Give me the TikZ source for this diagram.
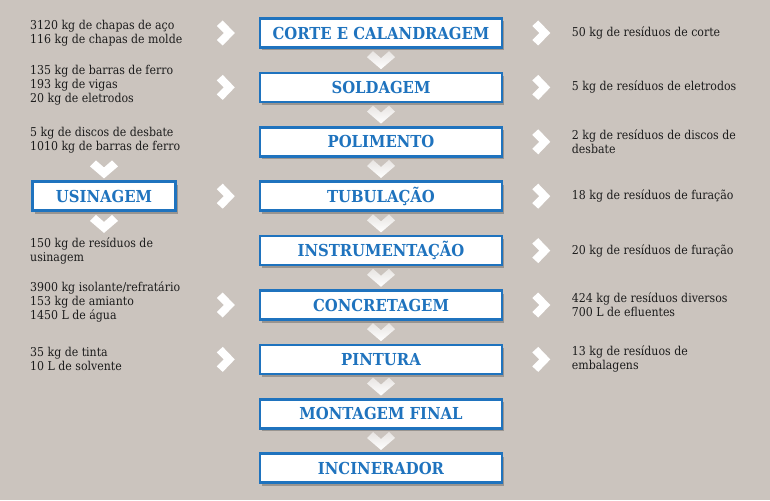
\documentclass[tikz,border=0pt]{standalone}
\usepackage{fontspec}
\setmainfont{DejaVu Serif Condensed}
\usetikzlibrary{positioning,calc,shadows}
\definecolor{bgsand}{RGB}{203,196,190}
\definecolor{stageblue}{RGB}{31,115,190}
\definecolor{inktext}{RGB}{28,28,28}

\begin{document}
\begin{tikzpicture}[x=1pt, y=-1pt, node distance=22.9pt, every node/.style={text=inktext}]
      \tikzset{
	  stage/.style={rectangle, draw=stageblue, fill=white, line width=2.5pt, minimum width=242pt, minimum height=29pt, inner sep=0, text=stageblue, font=\bfseries\fontsize{16.5}{18}\selectfont, drop shadow={shadow xshift=2pt, shadow yshift=-3pt, opacity=0.4, fill=black!70}},
	  flowlist/.style={anchor=west, align=left, inner sep=0, font=\fontsize{12.2}{14}\selectfont},
	  chev/.style={fill=white, draw=none},
	  fadechev/.style={top color=white!55!bgsand, bottom color=white, draw=none}
      }

      \def\rightchev{+(-3,-12.5) -- +(9,0) -- +(-3,12.5) -- +(-9,7) -- +(-2,0) -- +(-9,-7) -- cycle}
      \def\downchev{+(-14,-3) -- +(0,9) -- +(14,-3) -- +(8,-9) -- +(0,-2) -- +(-8,-9) -- cycle}

      \fill[bgsand] (0,0) rectangle (770,500);

      % central chain
      \node[stage] (cut) at (381,33) {CORTE E CALANDRAGEM};
      \node[stage, below=of cut] (weld) {SOLDAGEM};
      \node[stage, below=of weld] (polish) {POLIMENTO};
      \node[stage, below=of polish] (tube) {TUBULAÇÃO};
      \node[stage, below=of tube] (instr) {INSTRUMENTAÇÃO};
      \node[stage, below=of instr] (concrete) {CONCRETAGEM};
      \node[stage, below=of concrete] (paint) {PINTURA};
      \node[stage, below=of paint] (assembly) {MONTAGEM FINAL};
      \node[stage, below=of assembly] (burner) {INCINERADOR};

      \node[stage, minimum width=143pt, left=82pt of tube] (machining) {USINAGEM};

      \foreach \a/\b in {cut/weld, weld/polish, polish/tube, tube/instr, instr/concrete, concrete/paint, paint/assembly, assembly/burner}
	  \shade[fadechev] ($(\a.south)!0.5!(\b.north)$) \downchev;
      \fill[chev] ([yshift=11pt]machining.north) \downchev;
      \fill[chev] ([yshift=-12pt]machining.south) \downchev;

      % inputs
      \node[flowlist] (in-cut) at (30,33) {3120 kg de chapas de aço\\116 kg de chapas de molde};
      \node[flowlist] (in-weld) at (30,85) {135 kg de barras de ferro\\193 kg de vigas\\20 kg de eletrodos};
      \node[flowlist] (in-machining) at (30,140) {5 kg de discos de desbate\\1010 kg de barras de ferro};
      \node[flowlist] (out-machining) at (30,251) {150 kg de resíduos de\\usinagem};
      \node[flowlist] (in-concrete) at (30,302) {3900 kg isolante/refratário\\153 kg de amianto\\1450 L de água};
      \node[flowlist] (in-paint) at (30,359) {35 kg de tinta\\10 L de solvente};

      \foreach \s in {cut, weld, tube, concrete, paint}
	  \fill[chev] ([xshift=-33pt]\s.west) \rightchev;

      % outputs
      \node[flowlist, right=68.5pt of cut] (out-cut) {50 kg de resíduos de corte};
      \node[flowlist, right=68.5pt of weld] (out-weld) {5 kg de resíduos de eletrodos};
      \node[flowlist, right=68.5pt of polish] (out-polish) {2 kg de resíduos de discos de\\desbate};
      \node[flowlist, right=68.5pt of tube] (out-tube) {18 kg de resíduos de furação};
      \node[flowlist, right=68.5pt of instr] (out-instr) {20 kg de resíduos de furação};
      \node[flowlist, right=68.5pt of concrete] (out-concrete) {424 kg de resíduos diversos\\700 L de efluentes};
      \node[flowlist, right=68.5pt of paint] (out-paint) {13 kg de resíduos de\\embalagens};

      \foreach \s in {cut, weld, polish, tube, instr, concrete, paint}
	  \fill[chev] ([xshift=38pt]\s.east) \rightchev;
\end{tikzpicture}
\end{document}
